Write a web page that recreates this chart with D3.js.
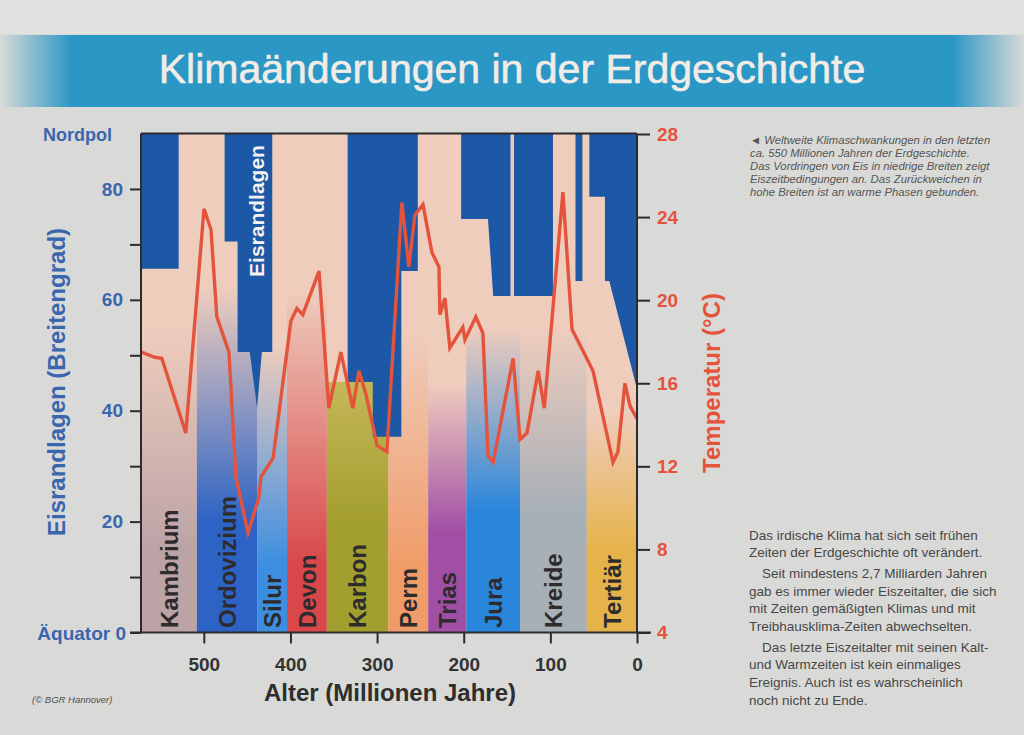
<!DOCTYPE html>
<html><head><meta charset="utf-8">
<script src="https://cdn.jsdelivr.net/npm/d3@7"></script>
<style>body{margin:0;background:#d9dad7;}svg{display:block}</style>
</head><body>
<svg id="chart" width="1024" height="735"></svg>
<script>
// ---------- data ----------
const periods = ["Kambrium","Ordovizium","Silur","Devon","Karbon","Perm","Trias","Jura","Kreide","Tertiär"];
const periodStart = [572.5,508,438,404,358,287,241,197,135,58];
const periodEnd   = [508,438,404,358,287,241,197,135,58,0];

const tempAge = [572,556.6,548.5,520.8,499.8,491.7,485,471,463,449,436.5,434,420,399.5,392.6,385.7,367,355.7,341.8,328,321,313,300,288.7,271.4,263.3,256.4,247,236.7,228.6,227.5,221.7,216,201,198.6,186,177.8,172,166,143,135,127,114,107,85.5,75,50.8,27.7,22,13.9,8,0];
const tempC   = [17.5,17.25,17.2,13.6,24.4,23.4,19.2,17.5,11.5,8.8,10.5,11.5,12.4,19.0,19.6,19.3,21.4,14.8,17.5,14.8,16.6,15.5,13.0,12.7,24.7,21.6,24.1,24.6,22.3,21.6,19.3,20.1,17.7,18.7,18.1,19.2,18.4,12.5,12.2,17.2,13.3,13.6,16.6,14.8,25.2,18.6,16.6,12.2,12.7,16.0,14.9,14.3];

// ice margin (latitude reached by ice; 90 = no ice)
const iceAge = [572.5,529,529,476,476,461,461,447,438.5,433,421,421,334,334,305,305,272,272,253,253,203,203,172,166,146,146,142,142,97,97,71,71,63,63,55,55,37,37,32,0];
const iceLat = [65.6,65.6,90,90,70.5,70.5,50.6,50.6,40.5,50.6,50.6,90,90,45.2,45.2,35.3,35.3,65.2,65.2,90,90,74.6,74.6,60.7,60.7,90,90,60.7,60.7,90,90,63.4,63.4,90,90,78.6,78.6,63.4,63.4,43.9];

const ageTicks = [500,400,300,200,100,0];
const latTicks = [0,10,20,30,40,50,60,70,80];
const latLabeled = [20,40,60,80];
const tempTicks = [4,8,12,16,20,24,28];

const noteLines = ["◄ Weltweite Klimaschwankungen in den letzten","ca. 550 Millionen Jahren der Erdgeschichte.","Das Vordringen von Eis in niedrige Breiten zeigt","Eiszeitbedingungen an. Das Zurückweichen in","hohe Breiten ist an warme Phasen gebunden."];
const textLines = ["Das irdische Klima hat sich seit frühen","Zeiten der Erdgeschichte oft verändert.","Seit mindestens 2,7 Milliarden Jahren","gab es immer wieder Eiszeitalter, die sich","mit Zeiten gemäßigten Klimas und mit","Treibhausklima-Zeiten abwechselten.","Das letzte Eiszeitalter mit seinen Kalt-","und Warmzeiten ist kein einmaliges","Ereignis. Auch ist es wahrscheinlich","noch nicht zu Ende."];

// ---------- styles ----------
const periodColors = ["#bca3a6","#2d63c4","#3b8ee0","#d8474a","#a39f2f","#f09c68","#a14fa4","#2a86db","#a7afb7","#e6b34a"];
const gradTop  = [55,62,52,62,46,55,45,55,55,40];
const gradFull = [15,20,12,12,20,12,18,22,22,15];
const pink = "#efcdbd", iceBlue = "#1d58a6", axisBlue = "#3a66ae", tempRed = "#e4533c", dark = "#2d2b2e";
const F = "'Liberation Sans', Arial, sans-serif";

const svg = d3.select("#chart");
const defs = svg.append("defs");

// background
svg.append("rect").attr("width",1024).attr("height",735).attr("fill","#d9dad7");
svg.append("rect").attr("width",1024).attr("height",34).attr("fill","#e1e2df");

// banner
const bg = defs.append("linearGradient").attr("id","banner").attr("x1",0).attr("x2",1).attr("y1",0).attr("y2",0);
[[0,0],[0.07,1],[0.93,1],[1,0]].forEach(([o,a])=>bg.append("stop").attr("offset",o).attr("stop-color","#2b97c5").attr("stop-opacity",a));
svg.append("rect").attr("x",0).attr("y",35).attr("width",1024).attr("height",72).attr("fill","url(#banner)");
svg.append("text").attr("x",512).attr("y",83).attr("text-anchor","middle").attr("font-family",F)
  .attr("font-size",41).attr("fill","#f1ece7").attr("stroke","#f1ece7").attr("stroke-width",0.6)
  .text("Klimaänderungen in der Erdgeschichte");

// scales
const x = d3.scaleLinear().domain([572.5,0]).range([141,637]);
const yLat = d3.scaleLinear().domain([0,90]).range([632.5,133.5]);
const yT = d3.scaleLinear().domain([4,28]).range([632.5,134]);

// plot background
svg.append("rect").attr("x",x(572.5)).attr("y",yLat(90)).attr("width",x(0)-x(572.5)).attr("height",yLat(0)-yLat(90)).attr("fill",pink);

// period bands
periods.forEach((p,i)=>{
  const g = defs.append("linearGradient").attr("id","pg"+i).attr("gradientUnits","userSpaceOnUse")
    .attr("x1",0).attr("x2",0).attr("y1",yLat(gradTop[i])).attr("y2",yLat(gradFull[i]));
  g.append("stop").attr("offset",0).attr("stop-color", i===4 ? "#c6b85a" : pink);
  g.append("stop").attr("offset",1).attr("stop-color",periodColors[i]);
  const top = i===4 ? 45.2 : 90;
  svg.append("rect").attr("x",x(periodStart[i])).attr("y",yLat(top))
    .attr("width",x(periodEnd[i])-x(periodStart[i])).attr("height",yLat(0)-yLat(top))
    .attr("fill","url(#pg"+i+")");
});

// ice
const ice = iceAge.map((a,i)=>({a,l:iceLat[i]}));
svg.append("path").datum(ice)
  .attr("d",d3.area().x(d=>x(d.a)).y0(yLat(90)).y1(d=>yLat(d.l)))
  .attr("fill",iceBlue);

svg.append("text").attr("transform",`translate(${x(438.5)},211) rotate(-90)`).attr("dy","0.35em")
  .attr("text-anchor","middle").attr("font-family",F).attr("font-weight","bold").attr("font-size",21)
  .attr("fill","#f4f1f0").text("Eisrandlagen");

// period labels
periods.forEach((p,i)=>{
  const cx = (x(periodStart[i])+x(periodEnd[i]))/2;
  svg.append("text").attr("transform",`translate(${cx},628) rotate(-90)`).attr("dy","0.36em")
    .attr("font-family",F).attr("font-weight","bold").attr("font-size",24).attr("fill",dark).text(p);
});

// temperature line
const temp = tempAge.map((a,i)=>({a,t:tempC[i]}));
svg.append("path").datum(temp).attr("d",d3.line().x(d=>x(d.a)).y(d=>yT(d.t)))
  .attr("fill","none").attr("stroke",tempRed).attr("stroke-width",3.4).attr("stroke-linejoin","miter");

// frame / axes
const axisG = svg.append("g").attr("stroke",dark).attr("stroke-width",2);
axisG.append("line").attr("x1",x(572.5)).attr("x2",x(0)).attr("y1",yLat(90)).attr("y2",yLat(90));
axisG.append("line").attr("x1",x(572.5)).attr("x2",x(572.5)).attr("y1",yLat(90)).attr("y2",yLat(0));
axisG.append("line").attr("x1",x(0)).attr("x2",x(0)).attr("y1",yT(28)).attr("y2",yLat(0));

// bottom axis
const xAxis = d3.axisBottom(x).tickValues(ageTicks).tickSize(11).tickSizeOuter(0).tickPadding(14);
const gx = svg.append("g").attr("transform",`translate(0,${yLat(0)})`).call(xAxis);
gx.select(".domain").remove();
gx.selectAll(".tick line").attr("stroke",dark).attr("stroke-width",2);
gx.selectAll(".tick text").attr("font-family",F).attr("font-weight","bold").attr("font-size",19).attr("fill","#333");
svg.append("line").attr("x1",130).attr("x2",651).attr("y1",yLat(0)).attr("y2",yLat(0)).attr("stroke",dark).attr("stroke-width",2);
svg.append("text").attr("x",390).attr("y",701).attr("text-anchor","middle").attr("font-family",F)
  .attr("font-weight","bold").attr("font-size",24).attr("fill","#2e2e2e").text("Alter (Millionen Jahre)");

// left axis
const yAxisL = d3.axisLeft(yLat).tickValues(latTicks).tickSize(11).tickSizeOuter(0).tickPadding(7)
  .tickFormat(d=> latLabeled.includes(d) ? d : "");
const gl = svg.append("g").attr("transform",`translate(${x(572.5)},0)`).call(yAxisL);
gl.select(".domain").remove();
gl.selectAll(".tick line").attr("stroke",dark).attr("stroke-width",2);
gl.selectAll(".tick text").attr("font-family",F).attr("font-weight","bold").attr("font-size",19).attr("fill",axisBlue);
svg.append("text").attr("x",112).attr("y",yLat(90)+7).attr("text-anchor","end").attr("font-family",F)
  .attr("font-weight","bold").attr("font-size",18).attr("fill",axisBlue).text("Nordpol");
svg.append("text").attr("x",126).attr("y",yLat(0)+7).attr("text-anchor","end").attr("font-family",F)
  .attr("font-weight","bold").attr("font-size",19).attr("fill",axisBlue).text("Äquator 0");
svg.append("text").attr("transform","translate(57,382) rotate(-90)").attr("dy","0.35em").attr("text-anchor","middle")
  .attr("font-family",F).attr("font-weight","bold").attr("font-size",24).attr("fill",axisBlue).text("Eisrandlagen (Breitengrad)");

// right axis
const yAxisR = d3.axisRight(yT).tickValues(tempTicks).tickSize(13).tickSizeOuter(0).tickPadding(7);
const gr = svg.append("g").attr("transform",`translate(${x(0)},0)`).call(yAxisR);
gr.select(".domain").remove();
gr.selectAll(".tick line").attr("stroke",dark).attr("stroke-width",2);
gr.selectAll(".tick text").attr("font-family",F).attr("font-weight","bold").attr("font-size",19).attr("fill",tempRed);
svg.append("text").attr("transform","translate(712,383) rotate(-90)").attr("dy","0.35em").attr("text-anchor","middle")
  .attr("font-family",F).attr("font-weight","bold").attr("font-size",24).attr("fill",tempRed).text("Temperatur (°C)");

// notes
noteLines.forEach((t,i)=>{
  svg.append("text").attr("x",750).attr("y",144+i*13).attr("font-family",F).attr("font-style","italic")
    .attr("font-size",11.3).attr("fill","#555").text(t);
});
const textY = [540,557,578,596,613,631,652,669,687,705];
const indent = [0,0,1,0,0,0,1,0,0,0];
textLines.forEach((t,i)=>{
  svg.append("text").attr("x",749+indent[i]*13).attr("y",textY[i]).attr("font-family",F)
    .attr("font-size",13.5).attr("fill","#474747").text(t);
});
svg.append("text").attr("x",32).attr("y",703).attr("font-family",F).attr("font-style","italic")
  .attr("font-size",9.5).attr("fill","#505050").text("(© BGR Hannover)");
</script>
</body></html>
